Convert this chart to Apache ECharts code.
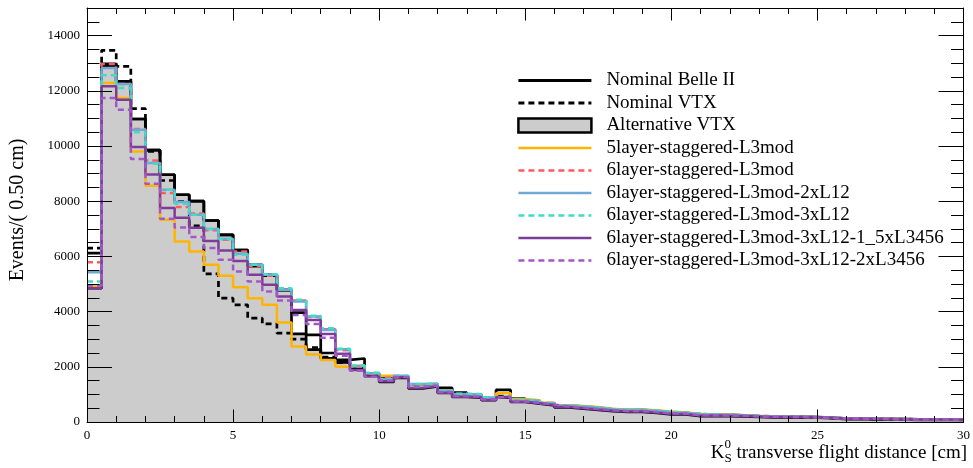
<!DOCTYPE html>
<html><head><meta charset="utf-8">
<script src="https://cdn.jsdelivr.net/npm/echarts@6/dist/echarts.min.js"></script>
<style>html,body{margin:0;padding:0;background:#fff}#c{width:973px;height:468px}</style>
</head><body><div id="c"></div>
<script>
const BIN_WIDTH = 0.5;
const xTickLabels = ['0','5','10','15','20','25','30'];

const nominalBelle2 = [6119,12973,12343,10979,9850,8959,8233,8000,7301,6780,
 6230,5650,5300,4780,3965,3156,2500,2250,2300,1740,
 1620,1650,1360,1370,1233,1063,990,870,1161,846,
 760,680,
 595,558,522,462,435,436,406,360,331,283,266,257,244,218,207,186,190,175,157,127,131,116,113,105,97,94,96,82];
const nominalVTX = [6300,13467,12887,11353,9800,8750,7990,7109,5368,4486,
 4244,3761,3554,3217,3000,2700,2350,2150,2000,1750,
 1600,1640,1350,1360,1150,1000,980,860,940,800,
 760,680,
 580,546,503,452,420,425,390,345,320,272,257,251,237,215,199,186,186,175,153,126,129,115,110,104,96,93,93,82];
const alternativeVTX = [4850,12900,12343,10979,9850,8959,8233,8000,7301,6780,
 6230,5694,5332,4790,3192,2620,2310,2160,1950,1700,
 1450,1600,1220,1290,1050,905,880,790,880,725,
 665,605,
 525,485,435,395,365,365,330,275,275,215,220,210,205,185,165,165,165,155,135,105,110,95,90,85,80,75,75,65];
const layer5 = [4933,12284,11740,9804,8560,7327,6540,6177,5694,5295,
 4885,4486,4244,3602,2731,2450,2250,2000,2060,1770,
 1680,1640,1360,1300,1150,1000,980,860,1040,830,
 786,701,
 608,578,540,482,448,456,422,384,341,301,273,270,249,226,212,191,191,179,156,131,132,119,114,108,97,96,96,84];
const layer6 = [5792,12973,12250,10617,9477,8300,7787,7550,6950,6600,
 6177,5650,5300,4800,4400,3800,3362,2600,2000,1750,
 1600,1660,1370,1370,1140,1010,1000,870,930,800,
 770,690,
 592,560,519,465,432,439,404,362,329,285,264,259,242,220,205,188,188,177,155,128,130,117,112,106,96,95,95,83];
const layer6_2xL12 = [5430,12828,12250,10590,9383,8415,7968,7508,6989,6626,
 6093,5694,5332,4790,4363,3819,3337,2637,2031,1766,
 1560,1680,1378,1378,1136,1015,1004,882,920,790,
 765,680,
 588,555,514,461,428,434,399,356,326,280,262,257,240,218,203,188,188,177,154,128,130,117,111,105,96,94,94,83];
const layer6_3xL12 = [5089,12560,12104,10500,9360,8415,7907,7508,6989,6626,
 6057,5694,5350,4849,4425,3850,3400,2650,2050,1780,
 1560,1670,1380,1385,1145,1020,1010,885,930,800,
 775,690,
 600,569,530,474,440,448,413,373,335,293,269,265,246,223,209,190,190,178,155,130,131,118,113,107,97,95,95,84];
const layer6_3xL12_1_5x = [4850,12162,11680,9963,8970,7750,7400,7040,6560,6210,
 5830,5332,4969,4550,4060,3700,3190,2470,1886,1650,
 1480,1620,1240,1300,1063,918,894,798,895,737,
 677,617,
 540,500,450,410,380,380,345,290,290,230,235,225,220,200,180,180,180,170,150,120,125,110,105,100,95,90,90,80];
const layer6_3xL12_2x = [4950,11740,11316,9528,8632,7363,7048,6699,6300,5876,
 5450,5090,4730,4400,3880,3550,3050,2400,1860,1640,
 1500,1630,1280,1320,1090,940,920,820,910,750,
 700,630,
 560,523,476,431,400,402,367,317,305,251,246,238,228,207,189,183,183,173,152,123,127,113,107,102,95,92,92,81];

const names = ['Nominal Belle II','Nominal VTX','Alternative VTX','5layer-staggered-L3mod','6layer-staggered-L3mod',
 '6layer-staggered-L3mod-2xL12','6layer-staggered-L3mod-3xL12','6layer-staggered-L3mod-3xL12-1_5xL3456','6layer-staggered-L3mod-3xL12-2xL3456'];

function toSteps(vals){
  const pts = vals.map((v,i)=>[i*BIN_WIDTH, v]);
  pts.push([vals.length*BIN_WIDTH, vals[vals.length-1]]);
  return pts;
}
const SERIF = '"Liberation Serif", "Times New Roman", serif';
function lineSeries(name, vals, color, width, type){
  return {name, type:'line', step:'end', symbol:'none', data:toSteps(vals), animation:false,
    lineStyle:{color, width, type, dashOffset:0}, itemStyle:{color}, z:2};
}
const DASH = [6,4];
const series = [
  {name:names[2], type:'line', step:'end', symbol:'none', data:toSteps(alternativeVTX), animation:false,
   lineStyle:{color:'#000', width:2.7}, itemStyle:{color:'#cccccc'}, areaStyle:{color:'#cccccc', opacity:1}, z:1},
  lineSeries(names[0], nominalBelle2, '#000000', 2.7, 'solid'),
  lineSeries(names[1], nominalVTX, '#000000', 2.7, DASH),
  lineSeries(names[3], layer5, '#ffb400', 2.5, 'solid'),
  lineSeries(names[4], layer6, '#ff5a5f', 2.5, DASH),
  lineSeries(names[5], layer6_2xL12, '#6fa8d6', 2.5, 'solid'),
  lineSeries(names[6], layer6_3xL12, '#40dcc8', 2.5, DASH),
  lineSeries(names[7], layer6_3xL12_1_5x, '#7d3c98', 2.5, 'solid'),
  lineSeries(names[8], layer6_3xL12_2x, '#a257c9', 2.5, DASH)
];

const legendData = names.map((n,i)=>{
  if (i===2) return {name:n, icon:'rect', itemStyle:{color:'#cccccc', borderColor:'#000', borderWidth:2.5}};
  return {name:n, itemStyle:{opacity:0, color:'rgba(0,0,0,0)', borderWidth:0},
          lineStyle:{width: i < 2 ? 2.8 : 2.6}};
});

function measure(text, font){ const c=document.createElement('canvas').getContext('2d'); c.font=font; return c.measureText(text).width; }
const titleFont = '19px ' + SERIF;
const smallFont = '13px ' + SERIF;
const restText = ' transverse flight distance [cm]';
const wRest = measure(restText, titleFont);
const wSmall = Math.max(measure('S', smallFont), measure('0', smallFont));
const wK = measure('K', titleFont);
const restX = 967 - wRest;
const subX = restX - wSmall;
const kX = subX - wK;
const titleY = 453;

const tickColor = '#000';
function xAx(pos, labels){
  return {type:'value', position:pos, min:0, max:30, interval:5, z:5,
    axisLine:{show:true, onZero:false, lineStyle:{color:'#000', width:1}},
    axisTick:{show:true, inside:true, length:12.5, lineStyle:{color:tickColor, width:1}},
    minorTick:{show:true, splitNumber:5, length:6, lineStyle:{color:tickColor, width:1}},
    splitLine:{show:false}, minorSplitLine:{show:false},
    axisLabel:{show:labels, color:'#000', fontFamily:SERIF, fontSize:13, margin:7,
      formatter:(v)=>xTickLabels[Math.round(v/5)] ?? ''}};
}
function yAx(pos, interval, len, labels, line){
  return {type:'value', position:pos, min:0, max:15000, interval, z:5,
    axisLine:{show:line, onZero:false, lineStyle:{color:'#000', width:1}},
    axisTick:{show:true, inside:true, length:len, lineStyle:{color:tickColor, width:1}},
    splitLine:{show:false},
    axisLabel:{show:labels, color:'#000', fontFamily:SERIF, fontSize:13, margin:7, showMaxLabel:false,
      formatter:(v)=>String(v)}};
}

const chart = echarts.init(document.getElementById('c'), null, {renderer:'canvas'});
chart.setOption({
  backgroundColor:'#ffffff',
  animation:false,
  grid:{left:87, right:6, top:8, bottom:46, containLabel:false},
  xAxis:[xAx('bottom', true), xAx('top', false)],
  yAxis:[yAx('left',2000,25,true,true), yAx('left',500,12.5,false,false),
         yAx('right',2000,25,false,true), yAx('right',500,12.5,false,false)],
  legend:{orient:'vertical', left:517, top:71, padding:0, itemWidth:73, itemHeight:14, itemGap:3.5,
    data:legendData, selectedMode:false,
    textStyle:{color:'#000', fontFamily:SERIF, fontSize:19, padding:[0,0,0,10]}},
  series,
  graphic:[
    {type:'text', x:18, y:210, rotation:Math.PI/2, silent:true,
     style:{text:'Events/( 0.50 cm)', x:0, y:0, font:'20px '+SERIF, fill:'#000', align:'center', verticalAlign:'middle'}},
    {type:'text', x:kX, y:titleY, silent:true, style:{text:'K', x:0, y:0, font:titleFont, fill:'#000', align:'left', verticalAlign:'middle'}},
    {type:'text', x:subX, y:titleY+6, silent:true, style:{text:'S', x:0, y:0, font:smallFont, fill:'#000', align:'left', verticalAlign:'middle'}},
    {type:'text', x:subX, y:titleY-8, silent:true, style:{text:'0', x:0, y:0, font:smallFont, fill:'#000', align:'left', verticalAlign:'middle'}},
    {type:'text', x:restX, y:titleY, silent:true, style:{text:restText, x:0, y:0, font:titleFont, fill:'#000', align:'left', verticalAlign:'middle'}}
  ]
});
</script></body></html>
